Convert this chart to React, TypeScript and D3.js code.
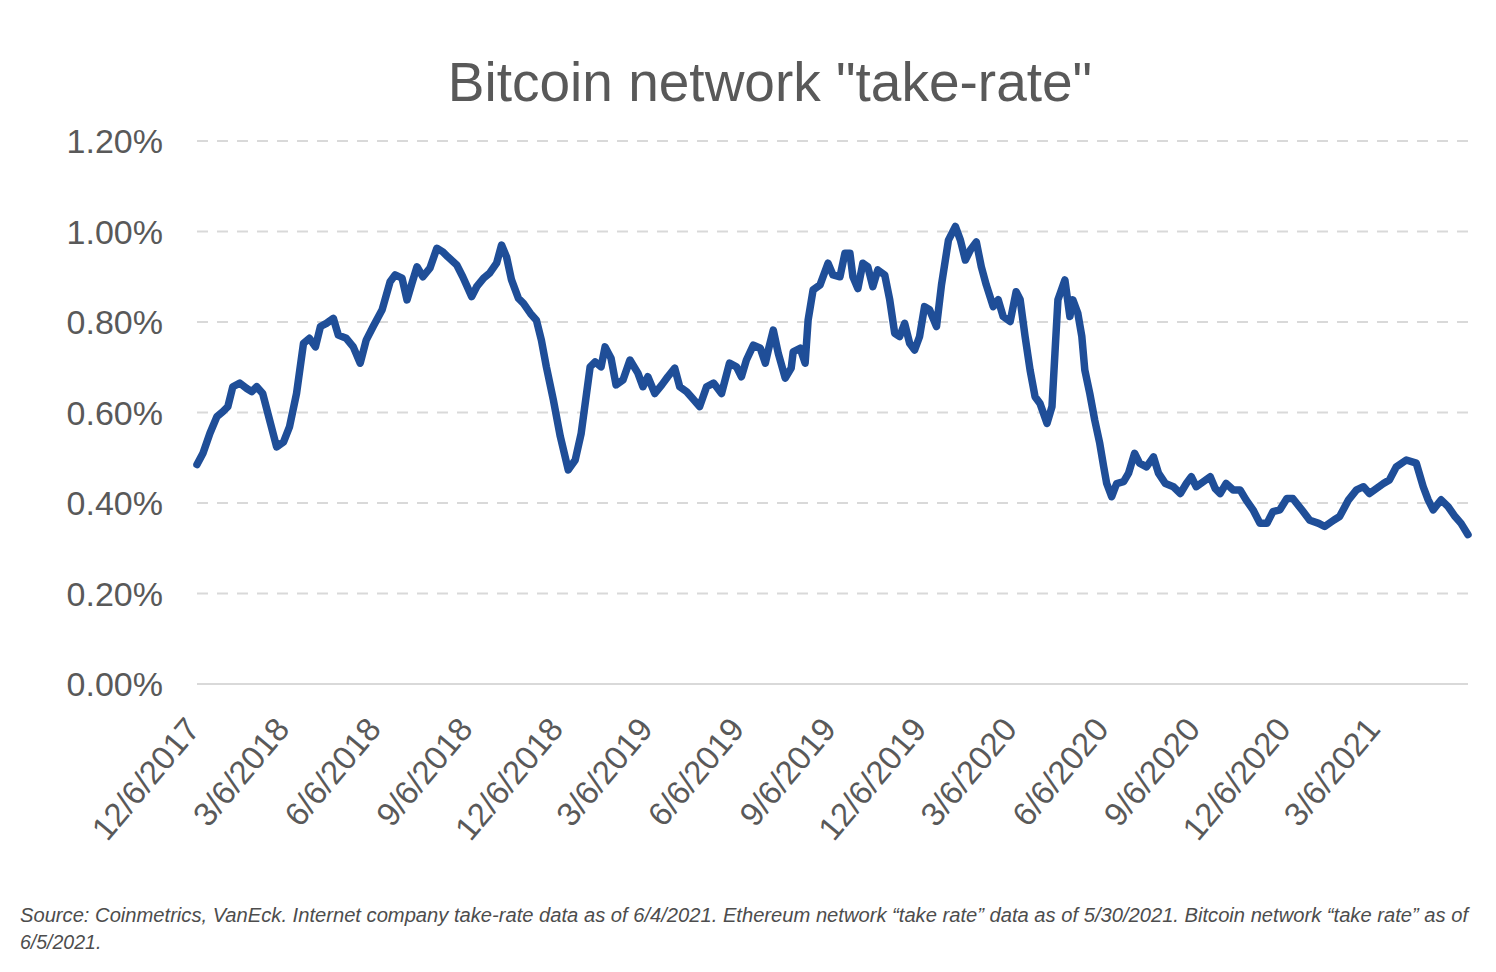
import React, { useEffect, useRef } from 'react';
import * as d3 from 'd3';

// Bitcoin network "take-rate" (%)
const dates = [
  '2017-12-06', '2017-12-12', '2017-12-19', '2017-12-26', '2018-01-01', '2018-01-06', '2018-01-11',
  '2018-01-18', '2018-01-25', '2018-01-30', '2018-02-04', '2018-02-10', '2018-02-17', '2018-02-24',
  '2018-03-03', '2018-03-09', '2018-03-16', '2018-03-23', '2018-03-29', '2018-04-04', '2018-04-09',
  '2018-04-15', '2018-04-22', '2018-04-27', '2018-05-05', '2018-05-12', '2018-05-19', '2018-05-25',
  '2018-06-01', '2018-06-10', '2018-06-18', '2018-06-23', '2018-06-30', '2018-07-05', '2018-07-10',
  '2018-07-15', '2018-07-21', '2018-07-28', '2018-08-04', '2018-08-10', '2018-08-15', '2018-08-24',
  '2018-08-30', '2018-09-08', '2018-09-13', '2018-09-20', '2018-09-26', '2018-10-03', '2018-10-08',
  '2018-10-13', '2018-10-18', '2018-10-25', '2018-10-30', '2018-11-06', '2018-11-12', '2018-11-17',
  '2018-11-22', '2018-11-29', '2018-12-06', '2018-12-14', '2018-12-21', '2018-12-27', '2019-01-05',
  '2019-01-10', '2019-01-16', '2019-01-20', '2019-01-26', '2019-01-31', '2019-02-07', '2019-02-14',
  '2019-02-22', '2019-02-27', '2019-03-04', '2019-03-11', '2019-03-18', '2019-03-24', '2019-03-31',
  '2019-04-05', '2019-04-12', '2019-04-18', '2019-04-25', '2019-05-02', '2019-05-09', '2019-05-17',
  '2019-05-25', '2019-06-01', '2019-06-06', '2019-06-11', '2019-06-18', '2019-06-25', '2019-06-30',
  '2019-07-03', '2019-07-08', '2019-07-13', '2019-07-20', '2019-07-26', '2019-07-28', '2019-08-04',
  '2019-08-09', '2019-08-12', '2019-08-17', '2019-08-24', '2019-09-01', '2019-09-06', '2019-09-13',
  '2019-09-18', '2019-09-23', '2019-09-26', '2019-10-01', '2019-10-06', '2019-10-11', '2019-10-16',
  '2019-10-21', '2019-10-28', '2019-11-02', '2019-11-07', '2019-11-12', '2019-11-17', '2019-11-22',
  '2019-11-27', '2019-12-02', '2019-12-07', '2019-12-12', '2019-12-19', '2019-12-24', '2019-12-31',
  '2020-01-07', '2020-01-12', '2020-01-17', '2020-01-22', '2020-01-28', '2020-02-02', '2020-02-07',
  '2020-02-14', '2020-02-19', '2020-02-24', '2020-03-02', '2020-03-08', '2020-03-12', '2020-03-17',
  '2020-03-22', '2020-03-27', '2020-04-01', '2020-04-08', '2020-04-13', '2020-04-16', '2020-04-19',
  '2020-04-26', '2020-05-01', '2020-05-04', '2020-05-09', '2020-05-13', '2020-05-16', '2020-05-21',
  '2020-05-26', '2020-05-31', '2020-06-04', '2020-06-07', '2020-06-12', '2020-06-17', '2020-06-24',
  '2020-06-29', '2020-07-05', '2020-07-10', '2020-07-17', '2020-07-24', '2020-07-29', '2020-08-05',
  '2020-08-13', '2020-08-20', '2020-08-26', '2020-08-31', '2020-09-05', '2020-09-12', '2020-09-19',
  '2020-09-24', '2020-09-29', '2020-10-05', '2020-10-12', '2020-10-19', '2020-10-25', '2020-11-01',
  '2020-11-08', '2020-11-15', '2020-11-21', '2020-11-28', '2020-12-05', '2020-12-11', '2020-12-20',
  '2020-12-28', '2021-01-06', '2021-01-12', '2021-01-21', '2021-01-27', '2021-02-05', '2021-02-13',
  '2021-02-20', '2021-02-26', '2021-03-05', '2021-03-12', '2021-03-18', '2021-03-25', '2021-04-04',
  '2021-04-14', '2021-04-21', '2021-04-26', '2021-05-01', '2021-05-09', '2021-05-16', '2021-05-23',
  '2021-05-29', '2021-06-05'
];

const takeRate = [
  0.485, 0.51, 0.554, 0.591, 0.602, 0.613, 0.657,
  0.665, 0.653, 0.646, 0.657, 0.642, 0.583, 0.524,
  0.535, 0.569, 0.642, 0.753, 0.764, 0.745, 0.79,
  0.797, 0.808, 0.771, 0.764, 0.745, 0.709, 0.76,
  0.79, 0.827, 0.889, 0.904, 0.897, 0.849, 0.886,
  0.922, 0.9, 0.919, 0.963, 0.955, 0.944, 0.926,
  0.9, 0.856, 0.878, 0.897, 0.908, 0.93, 0.97,
  0.944, 0.893, 0.852, 0.841, 0.819, 0.804, 0.76,
  0.701, 0.628, 0.547, 0.473, 0.495, 0.554, 0.701,
  0.712, 0.701, 0.745, 0.72, 0.661, 0.672, 0.716,
  0.687, 0.657, 0.679, 0.642, 0.661, 0.679, 0.698,
  0.657, 0.646, 0.631, 0.613, 0.657, 0.665, 0.642,
  0.709, 0.701, 0.679, 0.716, 0.749, 0.742, 0.709,
  0.738, 0.782, 0.731, 0.676, 0.698, 0.734, 0.742,
  0.709, 0.804, 0.871, 0.882, 0.93, 0.904, 0.9,
  0.952, 0.952, 0.9, 0.874, 0.93, 0.922, 0.878,
  0.915, 0.904, 0.849, 0.775, 0.768, 0.797, 0.753,
  0.738, 0.768, 0.834, 0.827, 0.79, 0.882, 0.981,
  1.011, 0.981, 0.937, 0.959, 0.977, 0.922, 0.882,
  0.834, 0.849, 0.812, 0.801, 0.867, 0.85, 0.768,
  0.694, 0.635, 0.62, 0.576, 0.613, 0.731, 0.849,
  0.893, 0.812, 0.849, 0.819, 0.768, 0.694, 0.642,
  0.583, 0.532, 0.48, 0.443, 0.414, 0.443, 0.447,
  0.466, 0.51, 0.488, 0.48, 0.502, 0.466, 0.443,
  0.436, 0.421, 0.443, 0.458, 0.436, 0.447, 0.458,
  0.432, 0.421, 0.443, 0.429, 0.429, 0.407, 0.385,
  0.355, 0.355, 0.381, 0.385, 0.41, 0.41, 0.385,
  0.362, 0.355, 0.348, 0.362, 0.37, 0.407, 0.429,
  0.436, 0.421, 0.432, 0.443, 0.451, 0.48, 0.495,
  0.488, 0.436, 0.407, 0.385, 0.407, 0.392, 0.37,
  0.355, 0.33
];

const yTicks = [0, 0.2, 0.4, 0.6, 0.8, 1.0, 1.2];
const xTickDates = [
  '2017-12-06', '2018-03-06', '2018-06-06', '2018-09-06', '2018-12-06', '2019-03-06',
  '2019-06-06', '2019-09-06', '2019-12-06', '2020-03-06', '2020-06-06', '2020-09-06',
  '2020-12-06', '2021-03-06'
];
const xDomain = ['2017-12-06', '2021-06-05'];

const title = 'Bitcoin network "take-rate"';
const sourceLines = [
  'Source: Coinmetrics, VanEck. Internet company take-rate data as of 6/4/2021. Ethereum network \u201Ctake rate\u201D data as of 5/30/2021. Bitcoin network \u201Ctake rate\u201D as of',
  '6/5/2021.'
];

const W = 1496;
const H = 972;
const margin = { left: 197, right: 28, top: 141, bottom: 288 };
const FONT = '"Liberation Sans", Arial, Helvetica, sans-serif';
const GRAY = '#595959';

const App: React.FC = () => {
  const svgRef = useRef<SVGSVGElement | null>(null);

  useEffect(() => {
    if (!svgRef.current) return;
    const parse = d3.timeParse('%Y-%m-%d');
    const points = dates.map((d, i) => ({ date: parse(d) as Date, value: takeRate[i] }));

    const svg = d3.select(svgRef.current).html('');

    const x = d3.scaleTime()
      .domain(xDomain.map(d => parse(d) as Date))
      .range([margin.left, W - margin.right]);
    const y = d3.scaleLinear()
      .domain([0, 1.2])
      .range([H - margin.bottom, margin.top]);

    // Title
    svg.append('text')
      .attr('x', 770)
      .attr('y', 101)
      .attr('text-anchor', 'middle')
      .attr('font-family', FONT)
      .attr('font-size', 55)
      .attr('fill', GRAY)
      .text(title);

    // Grid lines
    svg.append('g')
      .selectAll('line')
      .data(yTicks)
      .enter()
      .append('line')
      .attr('x1', margin.left)
      .attr('x2', W - margin.right)
      .attr('y1', d => y(d))
      .attr('y2', d => y(d))
      .attr('stroke', '#d9d9d9')
      .attr('stroke-width', 2)
      .attr('stroke-dasharray', d => (d === 0 ? null : '11,9'));

    // Y axis labels
    const yAxis = d3.axisLeft(y)
      .tickValues(yTicks)
      .tickFormat(d => `${d3.format('.2f')(d as number)}%`)
      .tickSize(0)
      .tickPadding(34);

    svg.append('g')
      .attr('transform', `translate(${margin.left},0)`)
      .call(yAxis)
      .call(g => g.select('.domain').remove())
      .selectAll('text')
      .attr('font-family', FONT)
      .attr('font-size', 34)
      .attr('fill', GRAY)
      .attr('dy', '0.34em');

    // X axis labels
    const xAxis = d3.axisBottom(x)
      .tickValues(xTickDates.map(d => parse(d) as Date))
      .tickFormat(d => d3.timeFormat('%-m/%-d/%Y')(d as Date))
      .tickSize(0);

    svg.append('g')
      .attr('transform', `translate(0,${y(0)})`)
      .call(xAxis)
      .call(g => g.select('.domain').remove())
      .selectAll('text')
      .attr('font-family', FONT)
      .attr('font-size', 33)
      .attr('fill', GRAY)
      .attr('text-anchor', 'end')
      .attr('x', 4)
      .attr('y', 46)
      .attr('dy', 0)
      .attr('transform', 'rotate(-50, 4, 46)');

    // Series line
    const line = d3.line<{ date: Date; value: number }>()
      .x(d => x(d.date))
      .y(d => y(d.value));

    svg.append('path')
      .datum(points)
      .attr('fill', 'none')
      .attr('stroke', '#1f4e98')
      .attr('stroke-width', 7.5)
      .attr('stroke-linejoin', 'round')
      .attr('stroke-linecap', 'round')
      .attr('d', line);

    // Source note
    svg.append('g')
      .selectAll('text')
      .data(sourceLines)
      .enter()
      .append('text')
      .attr('x', 20)
      .attr('y', (_, i) => 922 + i * 27)
      .attr('font-family', FONT)
      .attr('font-size', 19.5)
      .attr('font-style', 'italic')
      .attr('fill', '#4d4d4d')
      .attr('textLength', (_, i) => (i === 0 ? 1448 : null))
      .attr('lengthAdjust', 'spacingAndGlyphs')
      .text(d => d);
  }, []);

  return (
    <div style={{ position: 'absolute', left: 0, top: 0, background: '#fff' }}>
      <svg ref={svgRef} width={W} height={H} style={{ display: 'block' }} />
    </div>
  );
};

export default App;
